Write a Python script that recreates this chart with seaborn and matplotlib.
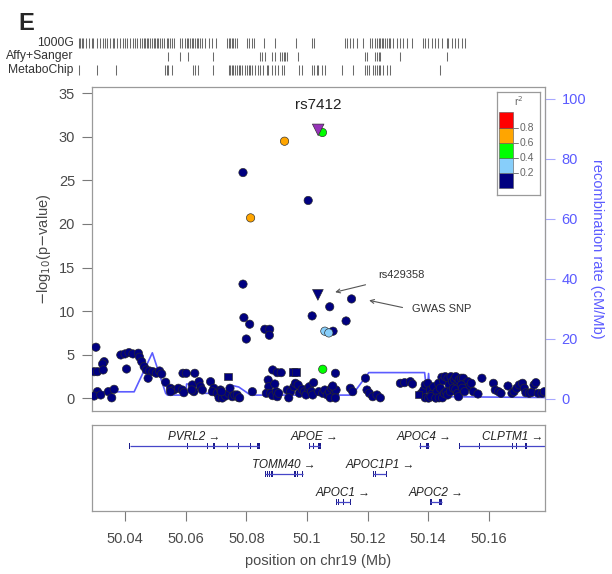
import numpy as np
import pandas as pd
import matplotlib
matplotlib.use("Agg")
import matplotlib.pyplot as plt
import seaborn as sns
from matplotlib.transforms import blended_transform_factory

sns.set_style("white")
plt.rcParams['font.family'] = ['Liberation Sans', 'DejaVu Sans']

# ---------------- data ----------------
index_snp = "rs7412"
index_pos = [50.1037]
index_logp = [30.8]

ld_pos = [50.1059, 50.1072, 50.1051, 50.1052, 50.0926, 50.0814]
ld_logp = [7.7, 7.5, 30.5, 3.33, 29.5, 20.7]
ld_r2 = [0.32, 0.30, 0.45, 0.42, 0.65, 0.62]

tri_pos = [50.1036]
tri_logp = [11.86]

sq_pos = [50.0740, 50.0953, 50.0964, 50.1368]
sq_logp = [2.48, 3.05, 3.05, 0.42]

low_pos = [
    50.0789, 50.1004, 50.0789, 50.1147, 50.1075, 50.1017, 50.0792, 50.1129, 50.0811, 50.0861, 50.0877, 50.0876, 50.0800, 50.1086,
    50.0304, 50.0331, 50.0326, 50.0298, 50.0309, 50.0328, 50.0309, 50.0298, 50.0320, 50.0345, 50.0356, 50.0364,
    50.0386, 50.0400, 50.0413, 50.0426, 50.0444, 50.0448, 50.0405, 50.0455, 50.0463, 50.0470, 50.0481, 50.0492, 50.0503, 50.0514, 50.0521, 50.0476,
    50.0534, 50.0550, 50.0561, 50.0576, 50.0589, 50.0550, 50.0594, 50.0591, 50.0602, 50.0630, 50.0622, 50.0644, 50.0649, 50.0627, 50.0620, 50.0655,
    50.0682, 50.0693, 50.0688, 50.0704, 50.0715, 50.0710, 50.0721, 50.0732, 50.0742, 50.0746, 50.0754, 50.0762, 50.0775, 50.0715, 50.0718,
    50.0770, 50.0778, 50.0820, 50.0887, 50.0902, 50.0915, 50.0872, 50.0874, 50.0866, 50.0880, 50.0887, 50.0899, 50.0902, 50.0907, 50.0894,
    50.0935, 50.0946, 50.0940, 50.0957, 50.0962, 50.0971, 50.0975, 50.0984, 50.0992, 50.0997, 50.1004, 50.1008, 50.1015, 50.1022, 50.1019,
    50.1094, 50.1039, 50.1052, 50.1059, 50.1067, 50.1074, 50.1081, 50.1085, 50.1091, 50.1096, 50.1085, 50.1077, 50.1094,
    50.1143, 50.1151, 50.1193, 50.1198, 50.1206, 50.1217, 50.1231, 50.1242,
    50.1308, 50.1322, 50.1341, 50.1348,
    50.1377, 50.1385, 50.1390, 50.1399, 50.1407, 50.1412, 50.1418, 50.1423, 50.1429, 50.1434, 50.1440, 50.1445, 50.1450, 50.1456,
    50.1465, 50.1469, 50.1475, 50.1480, 50.1486, 50.1491, 50.1498, 50.1502, 50.1509, 50.1516, 50.1524, 50.1531, 50.1535, 50.1542,
    50.1390, 50.1401, 50.1409, 50.1425, 50.1436, 50.1447, 50.1453, 50.1459, 50.1464, 50.1473, 50.1483, 50.1491, 50.1497, 50.1500,
    50.1509, 50.1513, 50.1520,
    50.1549, 50.1564, 50.1577, 50.1615, 50.1621, 50.1632, 50.1640, 50.1663, 50.1676, 50.1683, 50.1692, 50.1700, 50.1711, 50.1717,
    50.1722, 50.1733, 50.1742, 50.1749, 50.1755, 50.1763, 50.1775, 50.1783,
]
low_logp = [
    25.9, 22.7, 13.1, 11.4, 10.5, 9.45, 9.25, 8.87, 8.5, 7.92, 7.92, 7.23, 6.8, 7.7,
    5.86, 4.20, 3.94, 3.05, 3.05, 3.25, 0.76, 0.26, 0.38, 0.76, 0.05, 1.03,
    4.97, 5.09, 5.24, 5.09, 5.17, 4.71, 3.36, 4.20, 3.63, 3.25, 3.13, 3.05, 2.87, 3.13, 2.79, 2.30,
    1.84, 1.15, 0.95, 1.15, 0.95, 0.76, 0.64, 2.87, 2.87, 2.87, 1.53, 1.91, 1.33, 0.76, 0.95, 0.95,
    1.91, 1.15, 0.76, 0.57, 0.18, 0.05, 0.03, 0.26, 0.57, 1.15, 0.18, 0.38, 0.07, 0.95, 0.76,
    0.38, 0.05, 0.76, 3.25, 2.94, 2.94, 2.10, 1.33, 0.57, 0.57, 0.30, 0.76, 0.18, 0.57, 1.64,
    0.95, 0.76, 0.05, 1.33, 1.72, 1.53, 0.57, 1.03, 0.76, 0.38, 1.15, 1.33, 0.76, 1.79, 0.38,
    2.87, 0.76, 0.57, 0.95, 0.38, 0.76, 1.15, 0.18, 0.57, 0.95, 1.41, 0.05, 0.03,
    1.15, 0.76, 2.30, 0.95, 0.57, 0.18, 0.38, 0.05,
    1.72, 1.79, 1.91, 1.64,
    0.57, 0.95, 1.53, 1.72, 0.95, 0.49, 1.33, 0.18, 0.76, 1.72, 1.15, 2.41, 2.02, 2.48,
    2.30, 1.53, 2.48, 1.91, 2.18, 2.48, 1.72, 2.10, 2.30, 2.30, 1.72, 1.91, 1.33, 1.72,
    0.05, 0.02, 0.18, 0.02, 0.05, 0.05, 0.57, 0.76, 0.38, 0.76, 1.15, 1.03, 0.57, 0.18,
    1.53, 1.15, 0.76,
    0.76, 0.49, 2.30, 1.72, 0.95, 0.76, 0.57, 1.41, 0.57, 0.76, 1.15, 1.53, 1.72, 1.15,
    0.64, 0.57, 0.69, 1.53, 1.79, 0.57, 0.57, 0.76,
]

recomb_pos = [50.0293, 50.0430, 50.0490, 50.0534, 50.0540, 50.0600, 50.0603, 50.0649, 50.0655, 50.0735,
              50.0745, 50.0775, 50.0814, 50.1149, 50.1204, 50.1388, 50.1396, 50.1401, 50.1407, 50.1785]
recomb_rate = [2.4, 2.4, 15.4, 1.9, 1.3, 1.3, 5.0, 5.0, 1.9, 1.9,
               4.7, 4.0, 1.3, 1.3, 8.8, 8.8, 1.5, 8.5, 0.8, 0.5]

gene_names = ['PVRL2', 'APOE', 'APOC4', 'CLPTM1', 'TOMM40', 'APOC1P1', 'APOC1', 'APOC2']
gene_start = [50.0415, 50.1006, 50.1371, 50.1503, 50.0861, 50.1218, 50.1096, 50.1407]
gene_end = [50.0841, 50.1044, 50.1401, 50.1853, 50.0988, 50.1262, 50.1143, 50.1445]
gene_row = [1, 1, 1, 1, 2, 2, 3, 3]
gene_exons = [
    [50.0415, 50.0605, 50.0671, 50.0693, 50.0737, 50.0775, 50.0814, 50.0839],
    [50.1009, 50.1022, 50.1041],
    [50.1374, 50.1399],
    [50.1503, 50.1568, 50.1678, 50.1692, 50.1722],
    [50.0863, 50.0870, 50.0877, 50.0885, 50.0960, 50.0968, 50.0985],
    [50.1220, 50.1226, 50.1262],
    [50.1097, 50.1103, 50.1121, 50.1143],
    [50.1409, 50.1441],
]
big_exons = [50.0839, 50.1041, 50.1399, 50.1441]

track_names = ['1000G', 'Affy+Sanger', 'MetaboChip']
track_1000g = [50.0249, 50.0254, 50.0260, 50.0265, 50.0274, 50.0282, 50.0293, 50.0298, 50.0309, 50.0320,
               50.0328, 50.0336, 50.0344, 50.0353, 50.0362, 50.0366, 50.0375, 50.0384, 50.0395, 50.0402,
               50.0408, 50.0419, 50.0428, 50.0435, 50.0441, 50.0450, 50.0457, 50.0463, 50.0468, 50.0474,
               50.0479, 50.0485, 50.0490, 50.0496, 50.0501, 50.0507, 50.0512, 50.0518, 50.0523, 50.0531,
               50.0540, 50.0545, 50.0551, 50.0556, 50.0562, 50.0583, 50.0589, 50.0600, 50.0605, 50.0611,
               50.0616, 50.0622, 50.0627, 50.0633, 50.0638, 50.0644, 50.0649, 50.0655, 50.0666, 50.0677,
               50.0688, 50.0702, 50.0737, 50.0743, 50.0748, 50.0754, 50.0759, 50.0765, 50.0772, 50.0803,
               50.0809, 50.0819, 50.0828, 50.0860, 50.0896, 50.0964, 50.1017, 50.1023, 50.1127, 50.1132,
               50.1143, 50.1154, 50.1165, 50.1187, 50.1209, 50.1215, 50.1226, 50.1231, 50.1237, 50.1242,
               50.1248, 50.1253, 50.1259, 50.1264, 50.1270, 50.1275, 50.1286, 50.1297, 50.1308, 50.1319,
               50.1330, 50.1346, 50.1383, 50.1390, 50.1401, 50.1412, 50.1423, 50.1434, 50.1445, 50.1462,
               50.1467, 50.1478, 50.1489, 50.1500, 50.1511, 50.1522]
track_affy = [50.0545, 50.0583, 50.0611, 50.0693, 50.0847, 50.0852, 50.0863, 50.0885, 50.0896, 50.0913,
              50.0918, 50.0924, 50.0929, 50.0935, 50.0973, 50.1193, 50.1198, 50.1226, 50.1231, 50.1237,
              50.1242, 50.1308, 50.1462]
track_metabo = [50.0252, 50.0309, 50.0373, 50.0534, 50.0540, 50.0545, 50.0556, 50.0627, 50.0633, 50.0644,
                50.0693, 50.0743, 50.0748, 50.0754, 50.0759, 50.0765, 50.0770, 50.0776, 50.0781, 50.0787,
                50.0798, 50.0803, 50.0809, 50.0814, 50.0819, 50.0830, 50.0841, 50.0847, 50.0858, 50.0869,
                50.0874, 50.0885, 50.0896, 50.0907, 50.0918, 50.0924, 50.0976, 50.0984, 50.1017, 50.1023,
                50.1034, 50.1039, 50.1050, 50.1061, 50.1116, 50.1154, 50.1193, 50.1198, 50.1204, 50.1220,
                50.1226, 50.1231, 50.1237, 50.1242, 50.1253, 50.1264, 50.1275, 50.1440]

r2_bins = [0.0, 0.2, 0.4, 0.6, 0.8, 1.0]
r2_colors = ['#000080', '#87CEFA', '#00FF00', '#FFA500', '#FF0000']
index_color = '#9632B8'

# ---------------- frame ----------------
rows = []
for p, l in zip(low_pos, low_logp):
    rows.append((p, l, 'c0', 'circle'))
for p, l in zip(sq_pos, sq_logp):
    rows.append((p, l, 'c0', 'square'))
for p, l in zip(tri_pos, tri_logp):
    rows.append((p, l, 'c0', 'tri'))
for p, l, r in zip(ld_pos, ld_logp, ld_r2):
    b = int(np.digitize(r, r2_bins[1:-1]))
    rows.append((p, l, 'c%d' % b, 'circle'))
for p, l in zip(index_pos, index_logp):
    rows.append((p, l, 'idx', 'itri'))
df = pd.DataFrame(rows, columns=['pos', 'logp', 'ld', 'shape'])

palette = {'c%d' % i: c for i, c in enumerate(r2_colors)}
palette['idx'] = index_color

W, H = 612, 574
fig = plt.figure(figsize=(W / 100, H / 100), dpi=100)

def fx(px):
    return px / W

def fy(py):
    return 1 - py / H

xlim = (50.0290, 50.1785)
gray = '#9a9a9a'
txtgray = '#4a4a4a'
blue_txt = '#5b5bff'

# main axes
ax = fig.add_axes([fx(91.7), fy(411), fx(545) - fx(91.7), fy(87) - fy(411)])
ax2 = ax.twinx()
ax.set_zorder(ax2.get_zorder() + 1)
ax.patch.set_visible(False)

rdf = pd.DataFrame({'pos': recomb_pos, 'rate': recomb_rate})
sns.lineplot(data=rdf, x='pos', y='rate', ax=ax2, color='#5c5cff', lw=1.2,
             sort=False, estimator=None)
ax2.set_ylim(-4.0, 104.0)
ax2.set_yticks([0, 20, 40, 60, 80, 100])
ax2.tick_params(axis='y', length=7, width=0.8, color='#a8a8ff', labelcolor=blue_txt,
                labelsize=10.5, pad=5)
ax2.set_ylabel('recombination rate (cM/Mb)', color=blue_txt, fontsize=10.5,
               rotation=-90, labelpad=13)
for s in ax2.spines.values():
    s.set_visible(False)
ax2.spines['right'].set_visible(True)
ax2.spines['right'].set_color('#a8a8ff')
ax2.spines['right'].set_bounds(0, 100)
ax2.set_xlabel('')

marker_map = {'circle': 'o', 'square': 's', 'tri': 'v', 'itri': 'v'}
size_map = {'circle': 36, 'square': 30, 'tri': 60, 'itri': 70}
sns.scatterplot(data=df, x='pos', y='logp', hue='ld', style='shape', size='shape',
                palette=palette, markers=marker_map, sizes=size_map, ax=ax,
                legend=False, edgecolor='#2a2a2a', linewidth=0.45, zorder=3)

ax.set_xlim(*xlim)
ax.set_ylim(-1.46, 35.72)
ax.set_yticks([0, 5, 10, 15, 20, 25, 30, 35])
ax.set_xticks([])
ax.tick_params(axis='y', length=7, width=0.8, color='#7a7a7a', labelcolor=txtgray,
               labelsize=10.5, pad=5, left=True)
ax.set_xlabel('')
ax.set_ylabel(r'$-$log$_{10}$(p$-$value)', fontsize=10.5, color=txtgray)
ax.yaxis.set_label_coords(-0.085, 0.5)
for s in ax.spines.values():
    s.set_color(gray)
    s.set_linewidth(0.9)
ax2.set_xlim(*xlim)

ax.text(index_pos[0], 33.6, index_snp, ha='center', va='center', fontsize=11, color='#222222')

arrow_kw = dict(arrowstyle='->', color='#555555', lw=0.8, mutation_scale=7)
ax.annotate('', xy=(50.1084, 12.1), xytext=(50.1202, 13.1), arrowprops=arrow_kw)
ax.text(50.1235, 14.15, 'rs429358', fontsize=8, color='#333333', va='center', ha='left')
ax.annotate('', xy=(50.1196, 11.3), xytext=(50.1324, 10.35), arrowprops=arrow_kw)
ax.text(50.1346, 10.25, 'GWAS SNP', fontsize=8, color='#333333', va='center', ha='left')

# r2 legend
lg = fig.add_axes([fx(496.7), fy(195), fx(540) - fx(496.7), fy(92.3) - fy(195)])
lg.set_xlim(0, 1)
lg.set_ylim(0, 1)
lg.set_xticks([])
lg.set_yticks([])
for s in lg.spines.values():
    s.set_color(gray)
    s.set_linewidth(0.9)
blk_h = 0.148
blk_y0 = 0.065
lg.bar([0.215] * 5, [blk_h] * 5, bottom=[blk_y0 + i * blk_h for i in range(5)],
       width=0.31, color=r2_colors, edgecolor='#555555', linewidth=0.4)
for i, v in enumerate(r2_bins[1:-1]):
    yy = blk_y0 + (i + 1) * blk_h
    lg.plot([0.37, 0.49], [yy, yy], color='#777777', lw=0.7)
    lg.text(0.54, yy, '%.1f' % v, fontsize=7.5, color='#666666', va='center', ha='left')
lg.text(0.5, 0.91, r'r$^2$', fontsize=7.5, color='#666666', ha='center', va='center')

# gene panel
ag = fig.add_axes([fx(91.7), fy(510.7), fx(545) - fx(91.7), fy(425) - fy(510.7)])
ag.set_xlim(*xlim)
ag.set_ylim(3.306, 0.25)
for name, st, en, rw, ex in zip(gene_names, gene_start, gene_end, gene_row, gene_exons):
    ag.plot([st, en], [rw, rw], color='#4646c8', lw=0.9, solid_capstyle='butt')
    widths = [0.0010 if e in big_exons else 0.00045 for e in ex]
    ag.bar(ex, [0.22] * len(ex), bottom=rw - 0.11, width=widths, color='#1c1c8a',
           linewidth=0)
    ag.text((st + en) / 2, rw - 0.33, name + ' \u2192', fontsize=8.5, fontstyle='italic',
            ha='center', va='center', color='#222222')
ag.set_yticks([])
ticks = [50.04, 50.06, 50.08, 50.10, 50.12, 50.14, 50.16]
ag.set_xticks(ticks)
ag.set_xticklabels(['50.04', '50.06', '50.08', '50.1', '50.12', '50.14', '50.16'])
ag.tick_params(axis='x', length=7, width=0.8, color='#7a7a7a', labelcolor=txtgray,
               labelsize=10.5, pad=8, bottom=True)
ag.set_xlabel('position on chr19 (Mb)', fontsize=10.5, color=txtgray, labelpad=6)
for s in ag.spines.values():
    s.set_color(gray)
    s.set_linewidth(0.9)

# marker tracks
at = fig.add_axes([fx(77), fy(77), fx(545) - fx(77), fy(36) - fy(77)])
at.set_xlim(50.0244, 50.1785)
at.set_ylim(2.5, -0.5)
at.axis('off')
for r, vals in enumerate([track_1000g, track_affy, track_metabo]):
    at.vlines(vals, r - 0.35, r + 0.35, color='#6a6a6a', lw=0.75)
    at.text(-0.007, r, track_names[r], transform=blended_transform_factory(at.transAxes, at.transData),
            ha='right', va='center', fontsize=8.7, color='#333333')

fig.text(fx(18), fy(24), 'E', fontsize=17, fontweight='bold', ha='left', va='center')

fig.savefig('out.png', dpi=100)
